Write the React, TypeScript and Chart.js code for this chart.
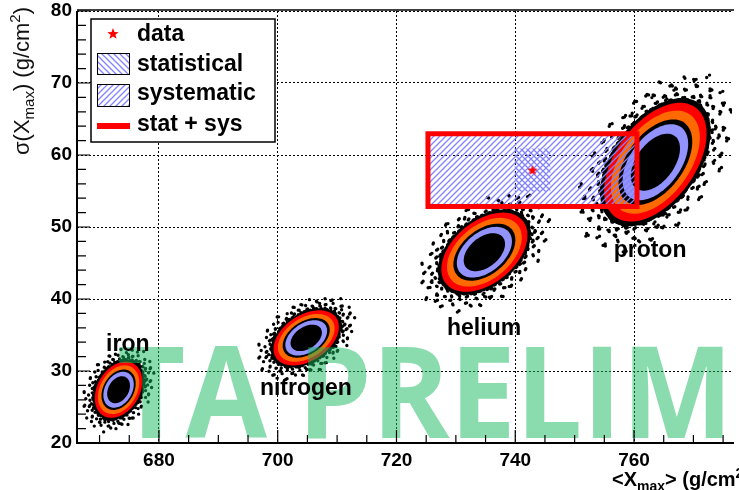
import React, { useEffect, useRef } from "react";
import { Chart, registerables } from "chart.js";

Chart.register(...registerables);

const FONT = '"Liberation Sans", Arial, Helvetica, sans-serif';
const MARK_FONT = '"Open Sans", "Liberation Sans", sans-serif';

// Simulated composition groups: mean Xmax against sigma(Xmax)
const species = ["iron", "nitrogen", "helium", "proton"];
const meanXmax = [673.2, 704.8, 734.8, 763.6];
const meanSigma = [27.4, 34.6, 46.5, 59.0];
const spreadXmax = [1.6, 2.2, 2.9, 3.45];
const spreadSigma = [1.56, 1.53, 2.2, 3.3];
const correlation = [0.3, 0.4, 0.43, 0.48];
const labelXmax = [674.75, 704.75, 734.75, 762.7];
const labelSigma = [32.8, 26.7, 35.0, 45.8];

// Contour levels (in units of the spread), outermost first, and their fills
const contourLevels = [2.5, 2.17, 1.8, 1.6, 1.2];
const contourColors = ["#ff0000", "#ff6a00", "#000000", "#9393ff", "#000000"];

// Measured point and its uncertainties
const dataXmax = [742.9];
const dataSigma = [57.9];
const statErrXmax = [3.0];
const statErrSigma = [3.0];
const sysErrXmax = [17.3];
const sysErrSigma = [4.75];
const totErrXmax = [17.6];
const totErrSigma = [5.05];

// Axes
const xRange = [666.2, 776.5];
const yRange = [20, 80];
const xTickValues = [680, 700, 720, 740, 760];
const xMajorStep = 20;
const xMinorStep = 5;
const yMajorStep = 10;
const yMinorStep = 2;

const legendLabels = ["data", "statistical", "systematic", "stat + sys"];
const watermark = "TA PRELIMINARY";

const HATCH = "rgb(130,130,255)";

function starPath(ctx: CanvasRenderingContext2D, cx: number, cy: number, R: number, r: number) {
  ctx.beginPath();
  for (let i = 0; i < 10; i++) {
    const rad = i % 2 === 0 ? R : r;
    const a = -Math.PI / 2 + (i * Math.PI) / 5;
    const x = cx + rad * Math.cos(a);
    const y = cy + rad * Math.sin(a);
    if (i) ctx.lineTo(x, y);
    else ctx.moveTo(x, y);
  }
  ctx.closePath();
}

function makeStar(): HTMLCanvasElement {
  const c = document.createElement("canvas");
  c.width = 12;
  c.height = 12;
  const g = c.getContext("2d")!;
  starPath(g, 6, 6.4, 5.5, 2.3);
  g.fillStyle = "#ff0000";
  g.fill();
  return c;
}

// hatch tile: dir > 0 gives "/" strokes, dir < 0 gives "\" strokes
function hatchPattern(ctx: CanvasRenderingContext2D, dir: number) {
  const n = 6;
  const c = document.createElement("canvas");
  c.width = n;
  c.height = n;
  const g = c.getContext("2d")!;
  g.strokeStyle = HATCH;
  g.lineWidth = 1.3;
  g.beginPath();
  for (let k = -1; k <= 1; k++) {
    if (dir > 0) {
      g.moveTo(k * n - 1, n + 1);
      g.lineTo(k * n + n + 1, -1);
    } else {
      g.moveTo(k * n - 1, -1);
      g.lineTo(k * n + n + 1, n + 1);
    }
  }
  g.stroke();
  return ctx.createPattern(c, "repeat")!;
}

// point of cluster i at normalised coordinates (u, v), in pixels
function clusterPixel(chart: any, i: number, u: number, v: number) {
  const r = correlation[i];
  const q = Math.sqrt(1 - r * r);
  const x = meanXmax[i] + spreadXmax[i] * u;
  const y = meanSigma[i] + spreadSigma[i] * (r * u + q * v);
  return [chart.scales.x.getPixelForValue(x), chart.scales.y.getPixelForValue(y)];
}

function ellipsePath(ctx: CanvasRenderingContext2D, chart: any, i: number, k: number) {
  const n = 90;
  ctx.beginPath();
  for (let j = 0; j <= n; j++) {
    const a = (j / n) * Math.PI * 2;
    const [px, py] = clusterPixel(chart, i, k * Math.cos(a), k * Math.sin(a));
    if (j) ctx.lineTo(px, py);
    else ctx.moveTo(px, py);
  }
  ctx.closePath();
}

function radical(n: number) {
  let v = 0;
  let d = 1;
  while (n > 0) {
    d *= 2;
    v += (n % 2) / d;
    n = Math.floor(n / 2);
  }
  return v;
}

// event cloud: a thin dense halo beyond the outer contour, thinning outwards
function drawCloud(ctx: CanvasRenderingContext2D, chart: any, i: number) {
  ctx.fillStyle = "#000";
  ellipsePath(ctx, chart, i, 2.7);
  ctx.fill();
  const n = Math.round(60 * (spreadXmax[i] + spreadSigma[i]));
  ctx.beginPath();
  for (let j = 0; j < n; j++) {
    const a = j * 2.39996323;
    const rr = 2.62 + 1.2 * Math.pow(radical(j + 1), 2);
    const [px, py] = clusterPixel(chart, i, rr * Math.cos(a), rr * Math.sin(a));
    ctx.moveTo(px + 1.7, py);
    ctx.arc(px, py, 1.7, 0, Math.PI * 2);
  }
  ctx.fill();
}

function hatchRect(ctx: CanvasRenderingContext2D, x0: number, y0: number, x1: number, y1: number, dir: number) {
  ctx.save();
  ctx.fillStyle = hatchPattern(ctx, dir);
  ctx.fillRect(x0, y0, x1 - x0, y1 - y0);
  ctx.restore();
}

type Part = [string, number, number];

function partsWidth(ctx: CanvasRenderingContext2D, parts: Part[], weight: string) {
  let w = 0;
  for (const [t, size] of parts) {
    ctx.font = `${weight} ${size}px ${FONT}`;
    w += ctx.measureText(t).width;
  }
  return w;
}

function drawParts(ctx: CanvasRenderingContext2D, parts: Part[], x: number, y: number, weight: string) {
  let cx = x;
  for (const [t, size, dy] of parts) {
    ctx.font = `${weight} ${size}px ${FONT}`;
    ctx.fillText(t, cx, y + dy);
    cx += ctx.measureText(t).width;
  }
}

const yTitle: Part[] = [
  ["σ(X", 22, 0],
  ["max", 15, 5],
  [") (g/cm", 22, 0],
  ["2", 15, -9],
  [")", 22, 0],
];
const xTitle: Part[] = [
  ["<X", 20, 0],
  ["max", 14, 5],
  ["> (g/cm", 20, 0],
  ["2", 14, -8],
  [")", 20, 0],
];

const overlay = {
  id: "overlay",
  beforeDatasetsDraw(chart: any) {
    const ctx: CanvasRenderingContext2D = chart.ctx;
    const a = chart.chartArea;
    const xs = chart.scales.x;
    const ys = chart.scales.y;
    ctx.save();
    ctx.beginPath();
    ctx.rect(a.left, a.top, a.right - a.left, a.bottom - a.top);
    ctx.clip();

    species.forEach((_, i) => {
      drawCloud(ctx, chart, i);
      contourLevels.forEach((k, j) => {
        ellipsePath(ctx, chart, i, k);
        ctx.fillStyle = contourColors[j];
        ctx.fill();
      });
    });

    dataXmax.forEach((x, i) => {
      const y = dataSigma[i];
      // systematic band
      hatchRect(
        ctx,
        xs.getPixelForValue(x - sysErrXmax[i]),
        ys.getPixelForValue(y + sysErrSigma[i]),
        xs.getPixelForValue(x + sysErrXmax[i]),
        ys.getPixelForValue(y - sysErrSigma[i]),
        1
      );
      // statistical band
      hatchRect(
        ctx,
        xs.getPixelForValue(x - statErrXmax[i]),
        ys.getPixelForValue(y + statErrSigma[i]),
        xs.getPixelForValue(x + statErrXmax[i]),
        ys.getPixelForValue(y - statErrSigma[i]),
        -1
      );
      // combined outline
      const l = xs.getPixelForValue(x - totErrXmax[i]);
      const r = xs.getPixelForValue(x + totErrXmax[i]);
      const t = ys.getPixelForValue(y + totErrSigma[i]);
      const b = ys.getPixelForValue(y - totErrSigma[i]);
      ctx.strokeStyle = "#ff0000";
      ctx.lineWidth = 5;
      ctx.strokeRect(l, t, r - l, b - t);
    });
    ctx.restore();
  },
  afterDatasetsDraw(chart: any) {
    const ctx: CanvasRenderingContext2D = chart.ctx;
    const a = chart.chartArea;
    ctx.save();
    ctx.beginPath();
    ctx.rect(a.left, a.top, a.right - a.left, a.bottom - a.top);
    ctx.clip();
    ctx.fillStyle = "rgba(22,186,96,0.5)";
    ctx.font = `bold 127px ${MARK_FONT}`;
    ctx.textAlign = "left";
    ctx.textBaseline = "alphabetic";
    ctx.translate(117, 438);
    ctx.scale(0.93, 1);
    ctx.fillText(watermark, 0, 0);
    ctx.restore();
  },
  afterDraw(chart: any) {
    const ctx: CanvasRenderingContext2D = chart.ctx;
    const a = chart.chartArea;
    const xs = chart.scales.x;
    const ys = chart.scales.y;
    ctx.save();

    // frame
    ctx.strokeStyle = "#000";
    ctx.lineWidth = 2;
    ctx.beginPath();
    ctx.moveTo(a.left, a.top);
    ctx.lineTo(a.left, a.bottom);
    ctx.lineTo(a.right + 2, a.bottom);
    ctx.stroke();
    ctx.lineWidth = 1.5;
    ctx.beginPath();
    ctx.moveTo(a.left, a.top - 1);
    ctx.lineTo(a.right + 2, a.top - 1);
    ctx.stroke();

    // inward ticks
    ctx.lineWidth = 1.2;
    ctx.beginPath();
    for (let v = Math.ceil(xRange[0] / xMinorStep) * xMinorStep; v <= xRange[1]; v += xMinorStep) {
      const px = xs.getPixelForValue(v);
      const len = v % xMajorStep === 0 ? 13 : 8;
      ctx.moveTo(px, a.bottom);
      ctx.lineTo(px, a.bottom - len);
    }
    for (let v = yRange[0]; v <= yRange[1]; v += yMinorStep) {
      const py = ys.getPixelForValue(v);
      const len = v % yMajorStep === 0 ? 13 : 9;
      ctx.moveTo(a.left, py);
      ctx.lineTo(a.left + len, py);
    }
    ctx.stroke();

    // cluster names
    ctx.fillStyle = "#000";
    ctx.font = `bold 23px ${FONT}`;
    ctx.textAlign = "center";
    ctx.textBaseline = "alphabetic";
    species.forEach((name, i) => {
      ctx.fillText(name, xs.getPixelForValue(labelXmax[i]), ys.getPixelForValue(labelSigma[i]));
    });

    // legend
    const L = { x: 91, y: 19, w: 184, h: 123 };
    ctx.fillStyle = "#fff";
    ctx.fillRect(L.x, L.y, L.w, L.h);
    ctx.strokeStyle = "#000";
    ctx.lineWidth = 1.5;
    ctx.strokeRect(L.x, L.y, L.w, L.h);

    starPath(ctx, 113, 34, 6, 2.5);
    ctx.fillStyle = "#ff0000";
    ctx.fill();

    hatchRect(ctx, 97, 53, 129, 74, -1);
    ctx.lineWidth = 1;
    ctx.strokeStyle = "#000";
    ctx.strokeRect(97.5, 53.5, 32, 21);
    hatchRect(ctx, 97, 84, 129, 106, 1);
    ctx.lineWidth = 1;
    ctx.strokeStyle = "#000";
    ctx.strokeRect(97.5, 84.5, 32, 22);

    ctx.strokeStyle = "#ff0000";
    ctx.lineWidth = 6;
    ctx.beginPath();
    ctx.moveTo(97, 126);
    ctx.lineTo(130, 126);
    ctx.stroke();

    ctx.fillStyle = "#000";
    ctx.font = `bold 23px ${FONT}`;
    ctx.textAlign = "left";
    const baselines = [41, 71, 100, 131];
    legendLabels.forEach((t, i) => ctx.fillText(t, 137, baselines[i]));

    // axis titles
    ctx.fillStyle = "#111";
    ctx.textAlign = "left";
    ctx.textBaseline = "alphabetic";
    ctx.save();
    ctx.translate(29, 7);
    ctx.rotate(-Math.PI / 2);
    const yw = partsWidth(ctx, yTitle, "normal");
    drawParts(ctx, yTitle, -yw, 0, "normal");
    ctx.restore();

    ctx.fillStyle = "#000";
    drawParts(ctx, xTitle, 612, 486, "bold");

    ctx.restore();
  },
};

export default function App() {
  const ref = useRef<HTMLCanvasElement>(null);

  useEffect(() => {
    const canvas = ref.current;
    if (!canvas) return;
    const tickFont = { family: FONT, size: 19, weight: "bold" as const, lineHeight: 1 };
    const chart = new Chart(canvas, {
      type: "scatter",
      data: {
        datasets: [
          {
            label: "data",
            data: dataXmax.map((x, i) => ({ x, y: dataSigma[i] })),
            pointStyle: makeStar(),
            pointRadius: 6,
          },
        ],
      },
      options: {
        responsive: false,
        animation: false,
        devicePixelRatio: 1,
        layout: { padding: { top: 11, left: 0, right: 0, bottom: 0 } },
        plugins: { legend: { display: false }, tooltip: { enabled: false } },
        scales: {
          x: {
            type: "linear",
            min: xRange[0],
            max: xRange[1],
            bounds: "data",
            afterBuildTicks: (s: any) => {
              s.ticks = xTickValues.map((value) => ({ value }));
            },
            afterFit: (s: any) => {
              s.height = 47;
              s.paddingLeft = 0;
              s.paddingRight = 0;
            },
            grid: { color: "#000", lineWidth: 1, drawTicks: false },
            border: { display: false, dash: [2, 2] },
            ticks: {
              autoSkip: false,
              maxRotation: 0,
              padding: 8,
              color: "#000",
              font: tickFont,
            },
          },
          y: {
            type: "linear",
            min: yRange[0],
            max: yRange[1],
            afterFit: (s: any) => {
              s.width = 77;
              s.paddingTop = 0;
              s.paddingBottom = 0;
            },
            grid: { color: "#000", lineWidth: 1, drawTicks: false },
            border: { display: false, dash: [2, 2] },
            ticks: {
              stepSize: yMajorStep,
              padding: 5,
              color: "#000",
              font: tickFont,
            },
          },
        },
      },
      plugins: [overlay],
    } as any);
    return () => chart.destroy();
  }, []);

  return (
    <div
      style={{
        position: "fixed",
        left: 0,
        top: 0,
        width: 739,
        height: 490,
        overflow: "hidden",
        background: "#fff",
      }}
    >
      <canvas ref={ref} width={739} height={490} style={{ display: "block", width: 739, height: 490 }} />
    </div>
  );
}
